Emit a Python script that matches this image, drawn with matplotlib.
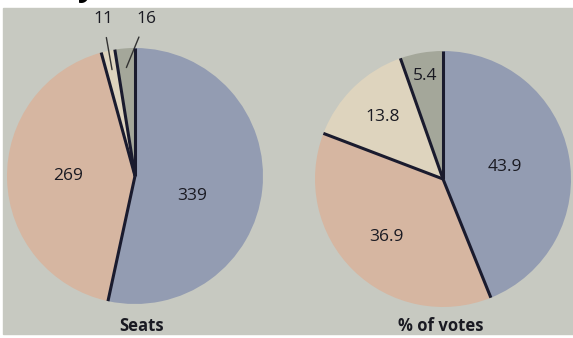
import numpy as np
import matplotlib.pyplot as plt
from matplotlib.patches import Rectangle

plt.rcParams["font.family"] = ["Open Sans", "DejaVu Sans"]

# ── Data ───────────────────────────────────────────────────────────────────────
seat_values = [339, 269, 11, 16]
seat_labels = ["339", "269", "11", "16"]
vote_values = [43.9, 36.9, 13.8, 5.4]
vote_labels = ["43.9", "36.9", "13.8", "5.4"]

COLORS = ["#939cb2", "#d6b6a1", "#ded4be", "#a4a79a"]
BG = "#c7c9c1"
LINE = "#1a1b2e"
TXT = "#1a1a22"

W, H = 573, 338
fig = plt.figure(figsize=(W / 100, H / 100), dpi=100)
fig.patch.set_facecolor("white")
fig.add_artist(Rectangle((3 / W, 4 / H), (W - 3) / W, (H - 12) / H,
                         transform=fig.transFigure, color=BG, zorder=0))


def pie_axes(cx, cy, r):
    """Axes in pixel terms, centred on (cx, cy) measured from the top-left."""
    ax = fig.add_axes([(cx - r) / W, (H - cy - r) / H, 2 * r / W, 2 * r / H])
    return ax


def draw_pie(ax, values):
    ax.pie(values, colors=COLORS, startangle=90, counterclock=False, radius=1,
           wedgeprops=dict(linewidth=0), frame=True)
    ax.set_xlim(-1, 1)
    ax.set_ylim(-1, 1)
    ax.axis("off")
    # radial boundaries
    fr = np.cumsum([0] + list(values)) / np.sum(values)
    angles = np.radians(90 - 360 * fr[:-1])
    for a in angles:
        ax.plot([0, np.cos(a)], [0, np.sin(a)], color=LINE, lw=2.2,
                solid_capstyle="butt", zorder=5)
    mids = np.radians(90 - 360 * (fr[:-1] + fr[1:]) / 2)
    return mids


# ── Seats ──────────────────────────────────────────────────────────────────────
ax1 = pie_axes(135, 176, 128)
mids = draw_pie(ax1, seat_values)
ax1.text(0.45, -0.16, seat_labels[0], fontsize=12.5, ha="center", va="center", color=TXT)
ax1.text(-0.52, 0.0, seat_labels[1], fontsize=12.5, ha="center", va="center", color=TXT)
for i, tx in zip([2, 3], [-0.25, 0.09]):
    m = mids[i]
    ax1.annotate(seat_labels[i], xy=(0.85 * np.cos(m), 0.85 * np.sin(m)),
                 xytext=(tx, 1.23), ha="center", va="center", fontsize=12.5,
                 color=TXT, annotation_clip=False,
                 arrowprops=dict(arrowstyle="-", color="#333333", lw=1.0,
                                 shrinkA=6, shrinkB=0))
ax1.text(0.05, -1.17, "Seats", fontsize=12, fontweight="bold",
         ha="center", va="center", color=TXT)

# ── % of votes ────────────────────────────────────────────────────────────────
ax2 = pie_axes(443, 179, 128)
mids = draw_pie(ax2, vote_values)
for lbl, m, rr in zip(vote_labels, mids, [0.49, 0.63, 0.68, 0.82]):
    ax2.text(rr * np.cos(m), rr * np.sin(m), lbl, fontsize=12.5,
             ha="center", va="center", color=TXT)
ax2.text(-0.02, -1.15, "% of votes", fontsize=12, fontweight="bold",
         ha="center", va="center", color=TXT)

# cut-off heading fragment at the top (only its descender shows)
fig.text(86 / W, 1.0 + 12 / H, "y", fontsize=22, fontweight="bold",
         ha="center", va="center", color="black")

fig.savefig("out.png", dpi=100, facecolor=fig.get_facecolor())
